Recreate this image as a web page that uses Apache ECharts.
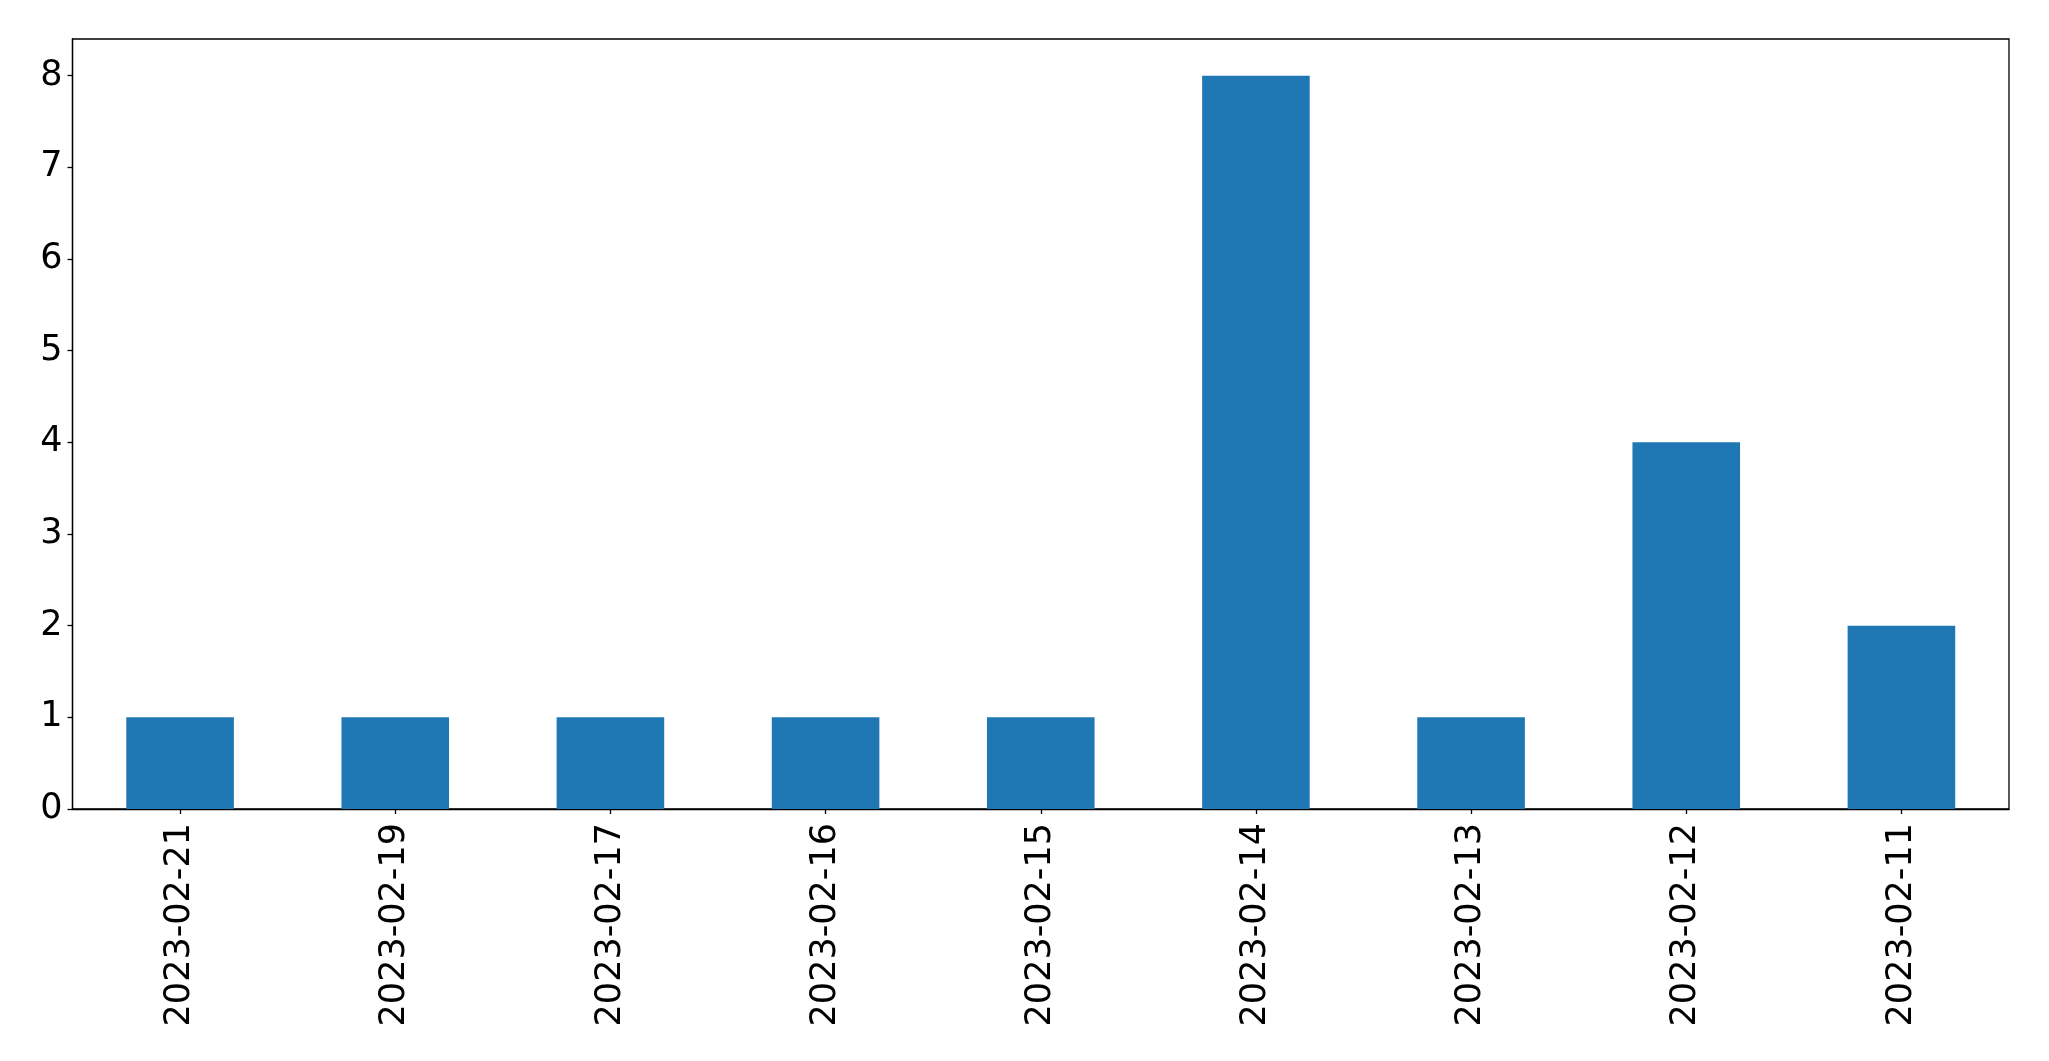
<!DOCTYPE html>
<html>
<head>
<meta charset="utf-8">
<script src="https://cdn.jsdelivr.net/npm/echarts@6/dist/echarts.min.js"></script>
<style>
html,body{margin:0;padding:0;background:#fff;}
#chart{width:2049px;height:1061px;}
</style>
</head>
<body>
<div id="chart"></div>
<script>
const categories = ["2023-02-21","2023-02-19","2023-02-17","2023-02-16","2023-02-15","2023-02-14","2023-02-13","2023-02-12","2023-02-11"];
const values = [1,1,1,1,1,8,1,4,2];

const chart = echarts.init(document.getElementById('chart'), null, {renderer:'canvas'});
const font = 'DejaVu Sans';
chart.setOption({
  animation:false,
  backgroundColor:'#ffffff',
  grid:{left:72.5,right:40,top:39,bottom:252,show:true,borderColor:'#000',borderWidth:1.3,containLabel:false},
  xAxis:{
    type:'category',
    data:categories,
    boundaryGap:true,
    axisLine:{show:true,lineStyle:{color:'#000',width:1.3}},
    axisTick:{show:true,alignWithLabel:true,length:5,lineStyle:{color:'#000',width:1.3}},
    axisLabel:{rotate:90,margin:14,color:'#000',fontSize:35,fontFamily:font,interval:0},
    splitLine:{show:false}
  },
  yAxis:{
    type:'value',
    min:0,max:8.4,interval:1,
    axisLine:{show:true,lineStyle:{color:'#000',width:1.3}},
    axisTick:{show:true,length:5,lineStyle:{color:'#000',width:1.3}},
    axisLabel:{margin:10,color:'#000',fontSize:35,fontFamily:font,showMaxLabel:false},
    splitLine:{show:false}
  },
  series:[{
    type:'bar',
    data:values,
    barWidth:'50%',
    itemStyle:{color:'#1f77b4'}
  }]
});
</script>
</body>
</html>
